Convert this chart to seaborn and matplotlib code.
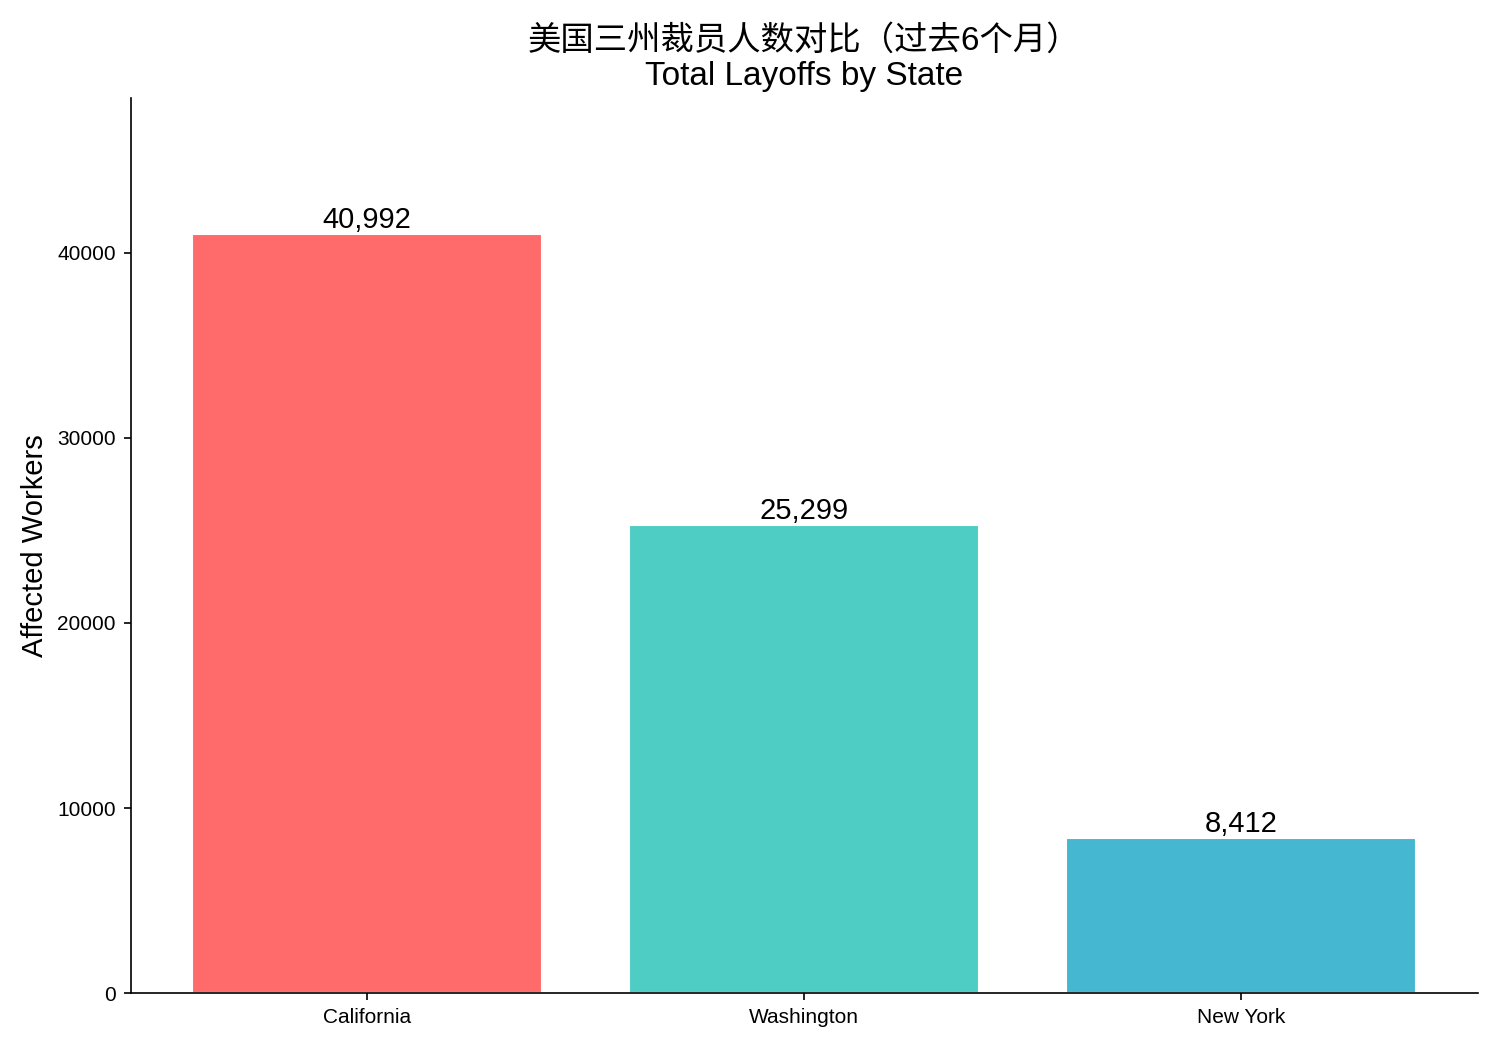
import pandas as pd
import matplotlib.pyplot as plt
import seaborn as sns

# Data
states = ['California', 'Washington', 'New York']
layoffs = [40992, 25299, 8412]
colors = ['#FF6B6B', '#4ECDC4', '#45B7D1']

sns.set_theme(style="white", rc={
    'xtick.bottom': True, 'ytick.left': True,
    'xtick.major.size': 3.5, 'ytick.major.size': 3.5,
    'xtick.major.width': 0.8, 'ytick.major.width': 0.8,
    'axes.linewidth': 0.8, 'axes.edgecolor': 'black',
    'text.color': 'black', 'axes.labelcolor': 'black',
    'xtick.color': 'black', 'ytick.color': 'black',
})
plt.rcParams['font.family'] = ['Liberation Sans', 'Noto Sans CJK SC', 'DejaVu Sans']

df = pd.DataFrame({'state': states, 'workers': layoffs})

fig, ax = plt.subplots(figsize=(10, 7), dpi=150)
sns.barplot(data=df, x='state', y='workers', hue='state', palette=colors,
            legend=False, saturation=1, width=0.8, edgecolor='white', linewidth=1, ax=ax)

for bar, val in zip(ax.patches, layoffs):
    ax.text(bar.get_x() + bar.get_width() / 2, bar.get_height(), f'{val:,}',
            ha='center', va='bottom', fontsize=14)

ax.set_xlim(-0.54, len(states) - 0.46)
ax.set_ylim(0, max(layoffs) * 1.18)
ax.set_title('美国三州裁员人数对比（过去6个月）\nTotal Layoffs by State', fontsize=16)
ax.set_xlabel('')
ax.set_ylabel('Affected Workers', fontsize=14)
ax.tick_params(labelsize=10)
sns.despine()

fig.subplots_adjust(left=0.087, right=0.985, bottom=0.054, top=0.907)
plt.savefig('out.png', dpi=150)
